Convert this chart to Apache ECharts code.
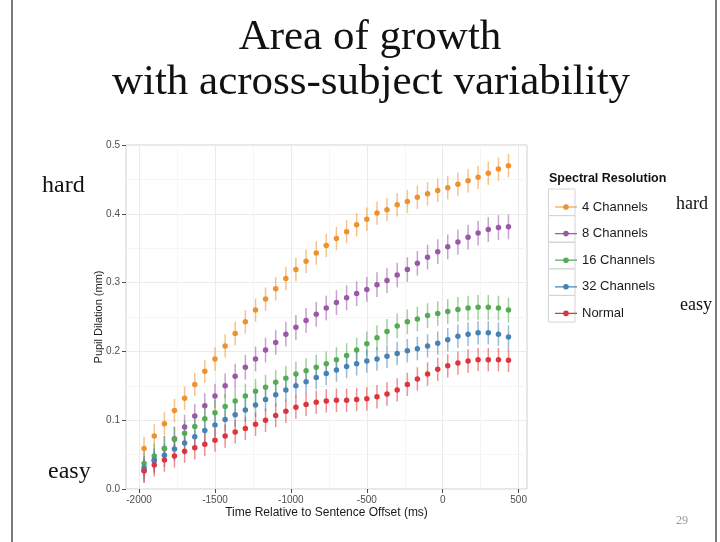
<!DOCTYPE html>
<html>
<head>
<meta charset="utf-8">
<script src="https://cdn.jsdelivr.net/npm/echarts@6/dist/echarts.min.js"></script>
<style>
  html, body { margin: 0; padding: 0; background: #fff; }
  #chart { width: 720px; height: 542px; }
</style>
</head>
<body>
<div id="chart"></div>
<script>
// time bins (ms relative to sentence offset)
const timeMs = [-1967, -1900, -1833, -1767, -1700, -1633, -1567, -1500, -1433, -1367, -1300, -1233,
  -1167, -1100, -1033, -967, -900, -833, -767, -700, -633, -567, -500, -433, -367, -300, -233,
  -167, -100, -33, 33, 100, 167, 233, 300, 367, 433]

const groupNames = ['4 Channels', '8 Channels', '16 Channels', '32 Channels', 'Normal']

// mean pupil dilation (mm)
const ch4 = [0.059, 0.077, 0.095, 0.114, 0.132, 0.152, 0.171, 0.189, 0.208, 0.226, 0.243, 0.260,
  0.276, 0.291, 0.306, 0.319, 0.331, 0.343, 0.354, 0.364, 0.374, 0.384, 0.392, 0.401, 0.406, 0.413,
  0.418, 0.424, 0.429, 0.434, 0.438, 0.443, 0.448, 0.453, 0.459, 0.465, 0.470]
const ch8 = [0.027, 0.041, 0.059, 0.073, 0.090, 0.106, 0.121, 0.135, 0.150, 0.164, 0.177, 0.189,
  0.202, 0.213, 0.225, 0.235, 0.245, 0.254, 0.263, 0.271, 0.278, 0.284, 0.290, 0.297, 0.303, 0.311,
  0.319, 0.328, 0.337, 0.345, 0.352, 0.359, 0.366, 0.372, 0.377, 0.380, 0.381]
const ch16 = [0.037, 0.048, 0.059, 0.072, 0.081, 0.091, 0.102, 0.111, 0.120, 0.128, 0.135, 0.142,
  0.148, 0.155, 0.161, 0.167, 0.172, 0.177, 0.182, 0.188, 0.194, 0.202, 0.211, 0.220, 0.229, 0.237,
  0.243, 0.247, 0.252, 0.255, 0.258, 0.261, 0.263, 0.264, 0.264, 0.263, 0.260]
const ch32 = [0.031, 0.042, 0.049, 0.058, 0.067, 0.076, 0.085, 0.093, 0.101, 0.108, 0.115, 0.122,
  0.130, 0.137, 0.144, 0.150, 0.156, 0.162, 0.168, 0.173, 0.178, 0.182, 0.186, 0.189, 0.193, 0.197,
  0.201, 0.204, 0.208, 0.212, 0.217, 0.222, 0.225, 0.227, 0.227, 0.225, 0.221]
const normal = [0.026, 0.035, 0.042, 0.048, 0.055, 0.060, 0.065, 0.071, 0.077, 0.083, 0.088, 0.094,
  0.100, 0.107, 0.113, 0.119, 0.123, 0.126, 0.128, 0.129, 0.129, 0.130, 0.131, 0.134, 0.138, 0.144,
  0.152, 0.160, 0.167, 0.174, 0.179, 0.183, 0.186, 0.188, 0.188, 0.188, 0.187]

// across-subject error (half length of each bar, mm)
const errHalf = [0.017, 0.018, 0.018, 0.017, 0.017]

const xTicks = [-2000, -1500, -1000, -500, 0, 500]
const xMinor = [-1750, -1250, -750, -250, 250]
const yMinor = [0.05, 0.15, 0.25, 0.35, 0.45]

const colors = ['#EE922F', '#9A58A6', '#55AB54', '#4782B4', '#DC363C']
const groupValues = [ch4, ch8, ch16, ch32, normal]

const legendIcon = 'path://M0,2.4H22V3.6H0Z M11,0.2A2.8,2.8 0 1 1 10.99,0.2Z'
const sans = 'Liberation Sans, Arial, sans-serif'
const serif = 'Liberation Serif, Times New Roman, serif'

const series = []
groupValues.forEach((vals, g) => {
  const color = colors[g]
  // error bars
  series.push({
    name: groupNames[g],
    type: 'custom',
    encode: { x: 0, y: [1, 2] },
    data: vals.map((v, i) => [timeMs[i], v - errHalf[g], v + errHalf[g]]),
    renderItem: function (params, api) {
      const hi = api.coord([api.value(0), api.value(2)])
      const lo = api.coord([api.value(0), api.value(1)])
      return {
        type: 'line',
        shape: { x1: hi[0], y1: hi[1], x2: lo[0], y2: lo[1] },
        style: { stroke: color, lineWidth: 1.5, opacity: 0.55 }
      }
    },
    itemStyle: { color: color },
    z: 2
  })
  // means
  series.push({
    name: groupNames[g],
    type: 'scatter',
    data: vals.map((v, i) => [timeMs[i], v]),
    symbolSize: 5.5,
    itemStyle: { color: color, opacity: 1 },
    z: 3
  })
})

const keyBoxes = groupNames.map((n, i) => ({
  type: 'rect',
  shape: { x: 548.5, y: 189 + i * 26.6, width: 26.5, height: 26.6 },
  style: { fill: 'none', stroke: '#D4D4D4', lineWidth: 1 },
  z: 1
}))

const myChart = echarts.init(document.getElementById('chart'))
const option = {
  backgroundColor: '#fff',
  animation: false,
  grid: {
    left: 126, top: 145, width: 401, height: 344,
    show: true, borderColor: '#CFCFCF', borderWidth: 1, backgroundColor: '#fff'
  },
  xAxis: [
    {
      type: 'value', min: -2086, max: 555,
      name: 'Time Relative to Sentence Offset (ms)',
      nameLocation: 'middle', nameGap: 18, nameMoveOverlap: false,
      nameTextStyle: { fontSize: 12, color: '#1a1a1a', fontFamily: sans },
      axisLine: { show: false, onZero: false },
      axisTick: { show: true, length: 4, customValues: xTicks, lineStyle: { color: '#4d4d4d' } },
      axisLabel: { customValues: xTicks, fontSize: 10, color: '#4d4d4d', margin: 6, fontFamily: sans,
        formatter: v => String(v) },
      splitLine: { show: true, lineStyle: { color: '#EBEBEB', width: 1 } }
    },
    {
      type: 'value', min: -2086, max: 555, position: 'bottom',
      axisLine: { show: false, onZero: false },
      axisTick: { show: false, customValues: xMinor },
      axisLabel: { show: false, customValues: xMinor },
      splitLine: { show: true, lineStyle: { color: '#F5F5F5', width: 1 } }
    }
  ],
  yAxis: [
    {
      type: 'value', min: 0, max: 0.5, interval: 0.1,
      name: 'Pupil Dilation (mm)',
      nameLocation: 'middle', nameGap: 22, nameMoveOverlap: false,
      nameTextStyle: { fontSize: 11, color: '#1a1a1a', fontFamily: sans },
      axisLine: { show: false, onZero: false },
      axisTick: { show: true, length: 4, lineStyle: { color: '#4d4d4d' } },
      axisLabel: { fontSize: 10, color: '#4d4d4d', margin: 6, fontFamily: sans,
        formatter: v => v.toFixed(1) },
      splitLine: { show: true, lineStyle: { color: '#EBEBEB', width: 1 } }
    },
    {
      type: 'value', min: 0, max: 0.5, position: 'left',
      axisLine: { show: false, onZero: false },
      axisTick: { show: false, customValues: yMinor },
      axisLabel: { show: false, customValues: yMinor },
      splitLine: { show: true, lineStyle: { color: '#F5F5F5', width: 1 } }
    }
  ],
  legend: {
    data: groupNames.map(n => ({ name: n, icon: legendIcon })),
    orient: 'vertical', left: 550, top: 194,
    itemWidth: 22, itemHeight: 5.6, itemGap: 10.6,
    selectedMode: false,
    textStyle: { fontSize: 13, color: '#1a1a1a', lineHeight: 16, fontFamily: sans }
  },
  graphic: [
    { type: 'line', shape: { x1: 12, y1: 0, x2: 12, y2: 542 }, style: { stroke: '#222', lineWidth: 1.2 } },
    { type: 'line', shape: { x1: 716, y1: 0, x2: 716, y2: 542 }, style: { stroke: '#222', lineWidth: 1.2 } },
    { type: 'text', x: 370, y: 38, style: { text: 'Area of growth', font: '43px ' + serif, fill: '#111', textAlign: 'center', textVerticalAlign: 'middle' } },
    { type: 'text', x: 371, y: 83, style: { text: 'with across-subject variability', font: '43px ' + serif, fill: '#111', textAlign: 'center', textVerticalAlign: 'middle' } },
    { type: 'text', x: 42, y: 186, style: { text: 'hard', font: '24px ' + serif, fill: '#111', textVerticalAlign: 'middle' } },
    { type: 'text', x: 48, y: 472, style: { text: 'easy', font: '24px ' + serif, fill: '#111', textVerticalAlign: 'middle' } },
    { type: 'text', x: 676, y: 204, style: { text: 'hard', font: '18px ' + serif, fill: '#111', textVerticalAlign: 'middle' } },
    { type: 'text', x: 680, y: 305, style: { text: 'easy', font: '18px ' + serif, fill: '#111', textVerticalAlign: 'middle' } },
    { type: 'text', x: 676, y: 521, style: { text: '29', font: '12px ' + serif, fill: '#999', textVerticalAlign: 'middle' } },
    { type: 'text', x: 549, y: 179, style: { text: 'Spectral Resolution', font: 'bold 12.5px ' + sans, fill: '#111', textVerticalAlign: 'middle' } }
  ].concat(keyBoxes),
  series: series
}
myChart.setOption(option)
</script>
</body>
</html>
